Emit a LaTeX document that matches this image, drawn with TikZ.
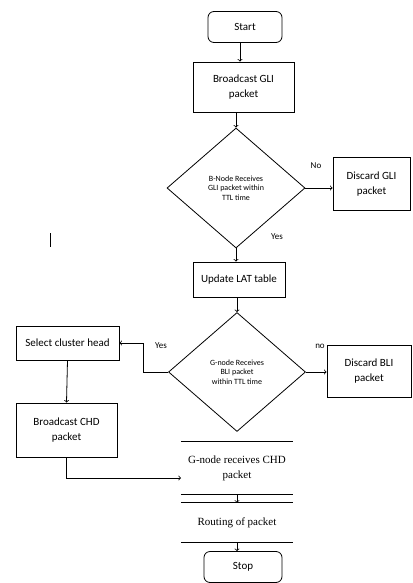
\documentclass[tikz,border=0pt]{standalone}
\usepackage{fontspec}
\setmainfont{Carlito}
\newfontfamily\serifface{Liberation Serif}
\usetikzlibrary{shapes.geometric}
\tikzset{
  box/.style={draw,rectangle,line width=0.8pt,align=center,inner sep=0pt,font=\fontsize{11}{13}\selectfont},
  term/.style={box,rounded corners=6pt},
  decide/.style={draw,diamond,line width=0.8pt,align=center,inner sep=0pt,font=\fontsize{8}{9.5}\selectfont,
    minimum width=138pt,minimum height=120pt},
  flow/.style={->,line width=0.8pt},
  tag/.style={font=\fontsize{9}{10}\selectfont}
}
\begin{document}
\begin{tikzpicture}[x=1pt,y=-1pt]
  \useasboundingbox (0,0) rectangle (412,583);
  % process steps
  \node[term,minimum width=74pt,minimum height=31pt] (start) at (245,27) {Start};
  \node[box,minimum width=101pt,minimum height=50pt] (bgli) at (243.5,87) {Broadcast GLI\\[2pt]packet};
  \node[decide] (dgli) at (236,188) {B-Node Receives\\GLI packet within\\TTL time};
  \node[box,minimum width=77pt,minimum height=53pt] (xgli) at (371.5,184) {Discard GLI\\[2pt]packet};
  \node[box,minimum width=92pt,minimum height=35pt] (lat) at (239,279.5) {Update LAT table};
  \node[decide,minimum width=137pt,minimum height=119pt] (dbli) at (237,372) {G-node Receives\\BLI packet\\within TTL time};
  \node[box,minimum width=84pt,minimum height=52pt] (xbli) at (369,371) {Discard BLI\\[2pt]packet};
  \node[box,minimum width=103pt,minimum height=34pt] (sel) at (67.5,343) {Select cluster head};
  \node[box,minimum width=101pt,minimum height=54pt] (bchd) at (66.5,430) {Broadcast CHD\\[2pt]packet};
  \node[align=center,font=\serifface\fontsize{11}{13}\selectfont,minimum width=112pt,minimum height=52pt,inner sep=0pt] (grx) at (237,468) {G-node receives CHD\\[2pt]packet};
  \node[font=\serifface\fontsize{11}{13}\selectfont,minimum width=112pt,minimum height=39pt,inner sep=0pt] (rout) at (237,522.5) {Routing of packet};
  \node[term,minimum width=78pt,minimum height=31pt] (stop) at (243,567) {Stop};
  % lines above and below the last two steps
  \draw[line width=0.8pt] (grx.north west) -- (grx.north east);
  \draw[line width=0.8pt] (grx.south west) -- (grx.south east);
  \draw[line width=0.8pt] (rout.north west) -- (rout.north east);
  \draw[line width=0.8pt] (rout.south west) -- (rout.south east);
  \draw[line width=0.8pt] (50,233) -- (50,247);
  % connectors
  \draw[flow] (start.south -| 240,0) -- (bgli.north -| 240,0);
  \draw[flow] (bgli.south -| dgli.north) -- (dgli.north);
  \draw[flow] (dgli.east) -- (xgli.west |- dgli.east);
  \node[tag] (tno) at (316,166) {No};
  \draw[flow] (dgli.south) -- (lat.north -| dgli.south);
  \node[tag] (tyes) at (277,237) {Yes};
  \draw[flow] (lat.south -| dbli.north) -- (dbli.north);
  \draw[flow] (dbli.east) -- (xbli.west |- dbli.east);
  \node[tag] (tno2) at (320,346) {no};
  \draw[flow] (dbli.west) -- ++(-25,0) |- (sel.east);
  \node[tag] (tyes2) at (161,346) {Yes};
  \draw[flow] (sel.south) -- (bchd.north);
  \coordinate (gin) at (181,478);
  \draw[flow] (bchd.south) |- (gin);
  \draw[flow] (grx.south) -- (rout.north);
  \draw[flow] (rout.south) -- (stop.north -| rout.south);
\end{tikzpicture}
\end{document}
